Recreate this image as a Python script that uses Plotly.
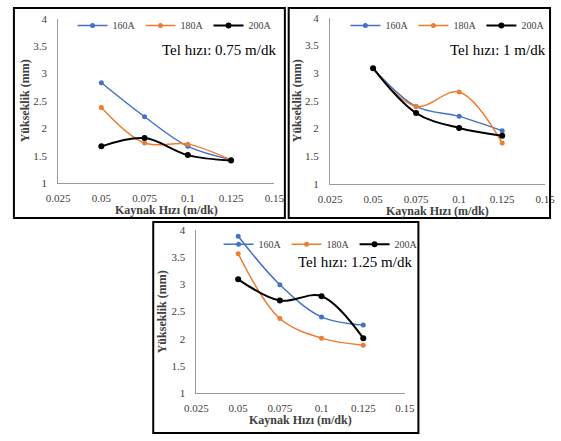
import plotly.graph_objects as go

W, H = 561, 441

kaynak_hizi = [0.05, 0.075, 0.1, 0.125]
series_names = ["160A", "180A", "200A"]
colors = ["#4472C4", "#ED7D31", "#000000"]

# Tel hızı 0.75 m/dk
p1_160 = [2.83, 2.21, 1.67, 1.43]
p1_180 = [2.38, 1.73, 1.71, 1.42]
p1_200 = [1.67, 1.82, 1.51, 1.41]
# Tel hızı 1 m/dk
p2_160 = [3.09, 2.40, 2.22, 1.96]
p2_180 = [3.09, 2.40, 2.66, 1.74]
p2_200 = [3.09, 2.28, 2.01, 1.87]
# Tel hızı 1.25 m/dk
p3_160 = [3.88, 2.99, 2.40, 2.25]
p3_180 = [3.56, 2.37, 2.01, 1.88]
p3_200 = [3.09, 2.70, 2.78, 2.01]

panel_titles = ["Tel hızı: 0.75 m/dk", "Tel hızı: 1 m/dk", "Tel hızı: 1.25 m/dk"]
x_title = "Kaynak Hızı (m/dk)"
y_title = "Yükseklik (mm)"
x_ticks = [0.025, 0.05, 0.075, 0.1, 0.125, 0.15]


def px(x):
    return x / W


def py(y):
    return 1 - y / H


# plot areas in pixels: (left, right, top, bottom)
areas = [(48, 273, 13, 182), (331, 555, 12, 183), (192, 409, 230, 398)]
frames = [(2, 284, 2, 218), (288, 560, 2, 218), (147, 423, 222, 439)]
legend_pos = [(63, 20), (347, 20), (215, 245)]
title_pos = [(277, 45), (558, 45), (418, 263)]

data = [[p1_160, p1_180, p1_200], [p2_160, p2_180, p2_200], [p3_160, p3_180, p3_200]]

fig = go.Figure()
serif = "Liberation Serif, Times New Roman, serif"

layout = dict(
    width=W, height=H, margin=dict(l=0, r=0, t=0, b=0),
    paper_bgcolor="white", plot_bgcolor="white",
    font=dict(family=serif, size=9, color="#404040"),
    shapes=[], annotations=[],
)

for i, (area, frame, series) in enumerate(zip(areas, frames, data)):
    l, r, t, b = area
    sfx = "" if i == 0 else str(i + 1)
    xa, ya = "x" + sfx, "y" + sfx
    leg = "legend" + sfx
    for name, vals, col in zip(series_names, series, colors):
        fig.add_trace(go.Scatter(
            x=kaynak_hizi, y=vals, name=name, xaxis=xa, yaxis=ya, legend=leg,
            mode="lines+markers", line=dict(color=col, width=2 if col == "#000000" else 1.5, shape="spline"),
            marker=dict(color=col, size=6 if col == "#000000" else 5, symbol="circle"),
        ))
    layout["xaxis" + sfx] = dict(
        domain=[px(l), px(r)], range=[0.025, 0.15], tickvals=x_ticks,
        showgrid=False, zeroline=False, showline=True, linecolor="#9a9a9a", linewidth=1,
        ticks="outside", ticklen=5, tickcolor="rgba(0,0,0,0)", anchor=ya,
        tickfont=dict(family=serif, size=11, color="#404040"),
    )
    layout["yaxis" + sfx] = dict(
        domain=[py(b), py(t)], range=[1, 4], dtick=0.5,
        showgrid=False, zeroline=False, showline=True, linecolor="#9a9a9a", linewidth=1,
        ticks="outside", ticklen=8, tickcolor="rgba(0,0,0,0)", anchor=xa,
        tickfont=dict(family=serif, size=11, color="#404040"),
    )
    lx, ly = legend_pos[i]
    layout[leg] = dict(
        orientation="h", x=px(lx), y=py(ly), xanchor="left", yanchor="middle",
        bgcolor="rgba(0,0,0,0)", font=dict(family=serif, size=10, color="#404040"),
        itemwidth=30, tracegroupgap=0,
    )
    fx0, fx1, fy0, fy1 = frame
    layout["shapes"].append(dict(
        type="rect", xref="paper", yref="paper",
        x0=px(fx0), x1=px(fx1), y0=py(fy1), y1=py(fy0),
        line=dict(color="black", width=2), fillcolor="rgba(0,0,0,0)",
    ))
    tx, ty = title_pos[i]
    layout["annotations"].append(dict(
        text=panel_titles[i], xref="paper", yref="paper", x=px(tx), y=py(ty),
        xanchor="right", yanchor="middle", showarrow=False,
        font=dict(family=serif, size=15, color="black"),
    ))
    layout["annotations"].append(dict(
        text="<b>" + x_title + "</b>", xref="paper", yref="paper",
        x=px((l + r) / 2), y=py(b + 28), xanchor="center", yanchor="middle",
        showarrow=False, font=dict(family=serif, size=12, color="#404040"),
    ))
    layout["annotations"].append(dict(
        text="<b>" + y_title + "</b>", xref="paper", yref="paper",
        x=px(l - 35), y=py((t + b) / 2), xanchor="center", yanchor="middle",
        textangle=-90, showarrow=False, font=dict(family=serif, size=12, color="#404040"),
    ))

fig.update_layout(**layout)
fig.write_html(
    "out.html",
    config={"displayModeBar": False},
    post_script="document.body.style.margin='0';document.body.style.overflow='hidden';",
)
